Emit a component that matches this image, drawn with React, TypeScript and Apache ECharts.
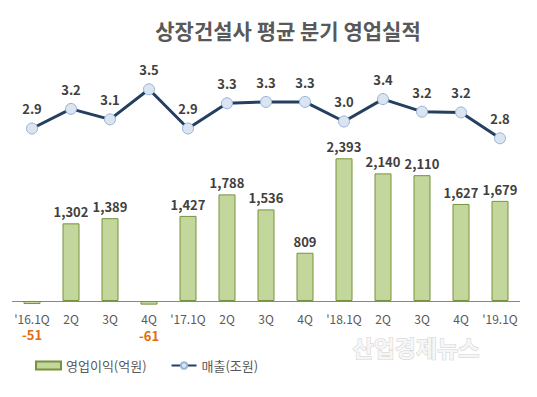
import React, { useEffect, useRef } from "react";
import * as echarts from "echarts";

const categories = ["'16.1Q", "2Q", "3Q", "4Q", "'17.1Q", "2Q", "3Q", "4Q", "'18.1Q", "2Q", "3Q", "4Q", "'19.1Q"];
const operatingProfit = [-51, 1302, 1389, -61, 1427, 1788, 1536, 809, 2393, 2140, 2110, 1627, 1679];
const sales = [2.94, 3.22, 3.07, 3.5, 2.94, 3.3, 3.32, 3.32, 3.04, 3.36, 3.18, 3.17, 2.8];

const FONT = "'Noto Sans CJK KR', 'Noto Sans', sans-serif";

export default function App() {
  const ref = useRef<HTMLDivElement>(null);
  useEffect(() => {
    document.body.style.margin = "0";
    const chart = echarts.init(ref.current!, null, { renderer: "svg" });
    chart.setOption({
      animation: false,
      backgroundColor: "#ffffff",
      title: {
        text: "상장건설사 평균 분기 영업실적",
        left: 283,
        textAlign: "center",
        top: 14,
        textStyle: { fontFamily: FONT, fontSize: 21, fontWeight: "bold", color: "#595959" },
      },
      legend: {
        left: 30,
        top: 354,
        itemWidth: 25,
        itemHeight: 8,
        itemGap: 24,
        textStyle: { fontFamily: FONT, fontSize: 13, color: "#595959" },
        data: [
          { name: "영업이익(억원)", icon: "rect" },
          { name: "매출(조원)" },
        ],
      },
      graphic: [
        {
          type: "text",
          left: 352,
          top: 335,
          style: {
            text: "산업경제뉴스",
            fontFamily: FONT,
            fontSize: 23,
            fontWeight: "bold",
            fill: "#f6f6f6",
            stroke: "#cfcfcf",
            lineWidth: 1,
          },
        },
      ],
      grid: { left: 12.5, right: 17.5, top: 40, height: 270 },
      xAxis: {
        type: "category",
        data: categories,
        axisLine: { show: true, onZero: true, onZeroAxisIndex: 0, lineStyle: { color: "#868686", width: 1 } },
        axisTick: { show: false },
        axisLabel: { fontFamily: FONT, fontSize: 12, lineHeight: 12, color: "#595959", margin: 2, interval: 0 },
      },
      yAxis: [
        { type: "value", min: -151, max: 4377, show: false, splitLine: { show: false } },
        { type: "value", min: 0.347, max: 4.204, show: false, splitLine: { show: false } },
      ],
      series: [
        {
          name: "영업이익(억원)",
          type: "bar",
          yAxisIndex: 0,
          barWidth: 17,
          itemStyle: { color: "#c3d69b", borderColor: "#77933c", borderWidth: 1 },
          label: {
            show: true,
            position: "top",
            distance: 5,
            fontFamily: FONT,
            fontSize: 13,
            fontWeight: "bold",
            color: "#404040",
            formatter: (p: any) => Number(p.value).toLocaleString("en-US"),
          },
          data: operatingProfit.map((v) =>
            v < 0
              ? { value: v, label: { position: "bottom", distance: 24, lineHeight: 13, color: "#e46c0a" } }
              : v
          ),
        },
        {
          name: "매출(조원)",
          type: "line",
          yAxisIndex: 1,
          symbol: "circle",
          symbolSize: 11,
          lineStyle: { color: "#243f60", width: 3 },
          itemStyle: { color: "#dbe5f1", borderColor: "#95b3d7", borderWidth: 1 },
          label: {
            show: true,
            position: "top",
            distance: 7,
            fontFamily: FONT,
            fontSize: 13,
            fontWeight: "bold",
            color: "#404040",
            formatter: (p: any) => Number(p.value).toFixed(1),
          },
          data: sales,
          z: 3,
        },
      ],
    });
    return () => chart.dispose();
  }, []);
  return <div ref={ref} style={{ width: 537, height: 397 }} />;
}
